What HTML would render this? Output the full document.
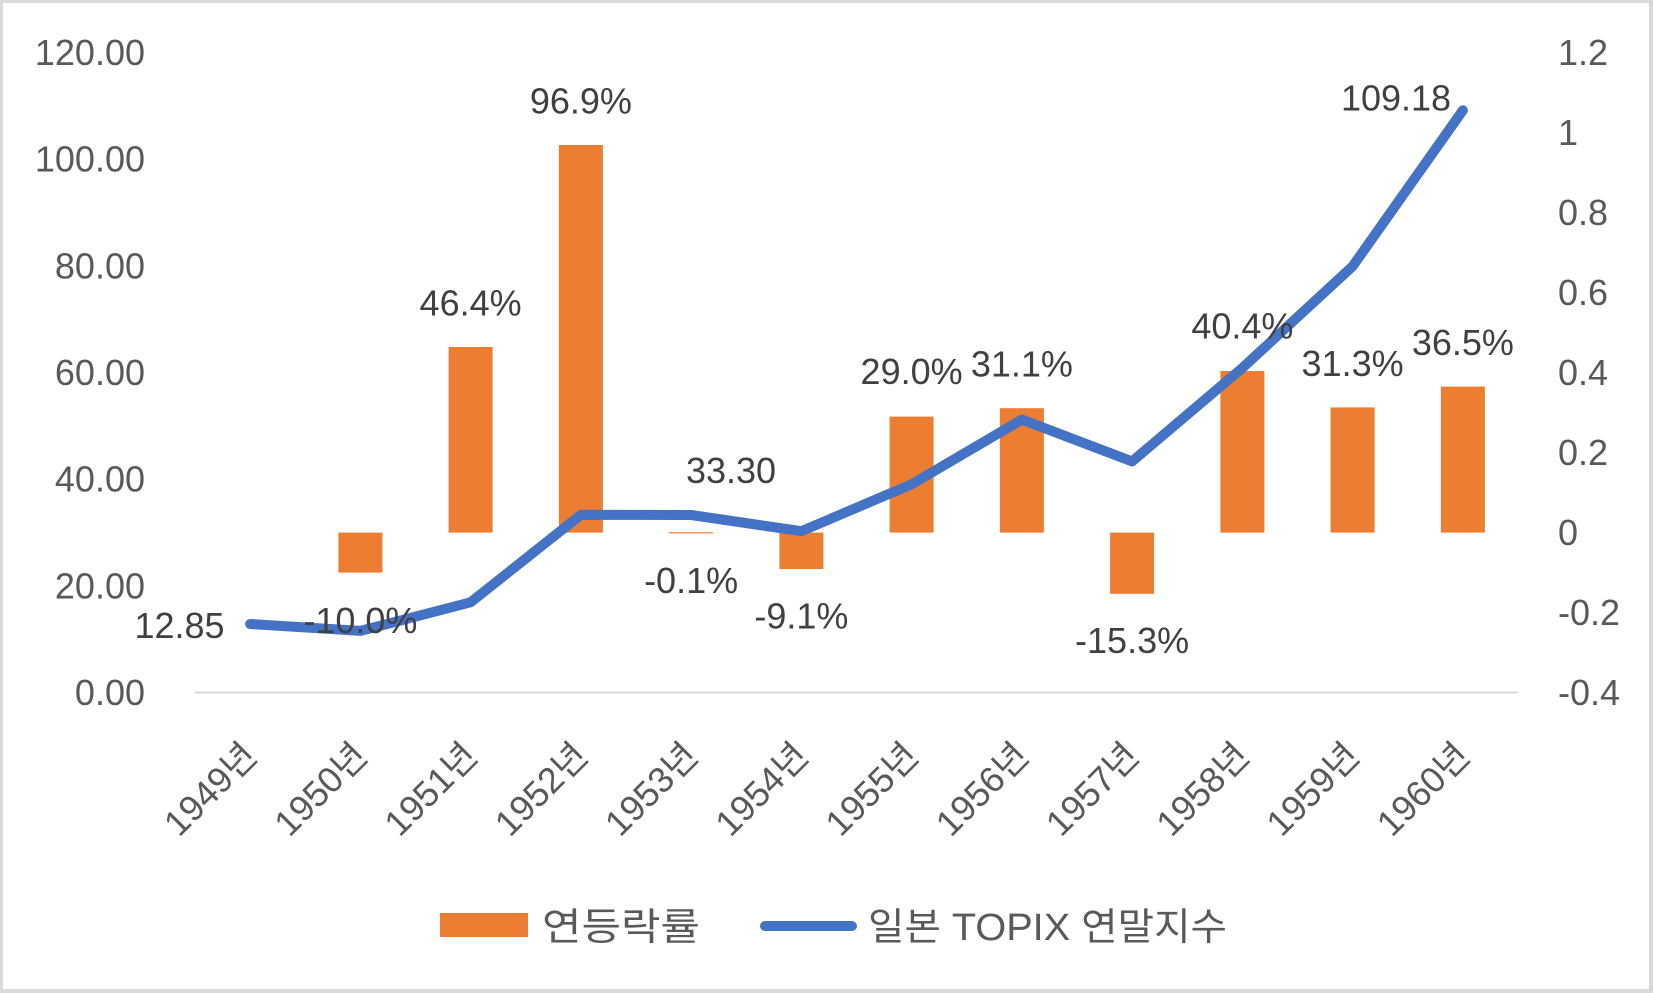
<!DOCTYPE html>
<html>
<head>
<meta charset="utf-8">
<style>
  html, body { margin: 0; padding: 0; background: #fff; }
  svg { display: block; }
  text { font-family: "Liberation Sans", "Noto Sans CJK KR", sans-serif; }
</style>
</head>
<body>
<svg width="1653" height="993" viewBox="0 0 1653 993" xmlns="http://www.w3.org/2000/svg">
  <!-- border -->
  <rect x="0" y="0" width="1653" height="993" fill="#D9D9D9"/>
  <rect x="3" y="3" width="1646" height="986" fill="#FFFFFF"/>

  <!-- gridline (zero of left axis) -->
  <line x1="195" y1="692.5" x2="1518" y2="692.5" stroke="#D9D9D9" stroke-width="2"/>

  <!-- left axis labels -->
  <g font-size="36" fill="#595959" text-anchor="end">
    <text x="145" y="65">120.00</text>
    <text x="145" y="171.6">100.00</text>
    <text x="145" y="278.3">80.00</text>
    <text x="145" y="385">60.00</text>
    <text x="145" y="491.6">40.00</text>
    <text x="145" y="598.3">20.00</text>
    <text x="145" y="705">0.00</text>
  </g>

  <!-- right axis labels -->
  <g font-size="36" fill="#595959" text-anchor="start">
    <text x="1558" y="65">1.2</text>
    <text x="1558" y="145">1</text>
    <text x="1558" y="225">0.8</text>
    <text x="1558" y="305">0.6</text>
    <text x="1558" y="385">0.4</text>
    <text x="1558" y="465">0.2</text>
    <text x="1558" y="545">0</text>
    <text x="1558" y="625">-0.2</text>
    <text x="1558" y="705">-0.4</text>
  </g>

  <!-- bars -->
  <g fill="#ED7D31">
    <rect x="338.4" y="532.6" width="44" height="40"/>
    <rect x="448.6" y="347" width="44" height="185.6"/>
    <rect x="558.9" y="145" width="44" height="387.6"/>
    <rect x="669.1" y="532.2" width="44" height="1.2"/>
    <rect x="779.4" y="532.6" width="44" height="36.4"/>
    <rect x="889.6" y="416.6" width="44" height="116"/>
    <rect x="999.9" y="408.2" width="44" height="124.4"/>
    <rect x="1110.1" y="532.6" width="44" height="61.2"/>
    <rect x="1220.4" y="371" width="44" height="161.6"/>
    <rect x="1330.6" y="407.4" width="44" height="125.2"/>
    <rect x="1440.9" y="386.6" width="44" height="146"/>
  </g>

  <!-- line -->
  <polyline fill="none" stroke="#4472C4" stroke-width="10" stroke-linecap="round" stroke-linejoin="round"
    points="250.1,624 360.4,630.9 470.6,602.3 580.9,514.8 691.1,515 801.4,531.2 911.6,484.3 1021.9,419.6 1132.1,461.4 1242.4,367.9 1352.6,266.3 1462.9,110.3"/>

  <!-- data labels -->
  <g font-size="36" fill="#404040" text-anchor="middle">
    <text x="179.5" y="638">12.85</text>
    <text x="360.4" y="633">-10.0%</text>
    <text x="470.6" y="315.5">46.4%</text>
    <text x="580.9" y="113.5">96.9%</text>
    <text x="731" y="483">33.30</text>
    <text x="691.1" y="593">-0.1%</text>
    <text x="801.4" y="628.5">-9.1%</text>
    <text x="911.6" y="384">29.0%</text>
    <text x="1021.9" y="376.6">31.1%</text>
    <text x="1132.1" y="653">-15.3%</text>
    <text x="1242.4" y="338.5">40.4%</text>
    <text x="1352.6" y="376">31.3%</text>
    <text x="1462.9" y="355">36.5%</text>
    <text x="1396" y="110.5">109.18</text>
  </g>

  <!-- x-axis category labels -->
  <g font-size="36" fill="#595959" text-anchor="end">
    <text x="259.1" y="758" transform="rotate(-45 259.1 758)">1949년</text>
    <text x="369.4" y="758" transform="rotate(-45 369.4 758)">1950년</text>
    <text x="479.6" y="758" transform="rotate(-45 479.6 758)">1951년</text>
    <text x="589.9" y="758" transform="rotate(-45 589.9 758)">1952년</text>
    <text x="700.1" y="758" transform="rotate(-45 700.1 758)">1953년</text>
    <text x="810.4" y="758" transform="rotate(-45 810.4 758)">1954년</text>
    <text x="920.6" y="758" transform="rotate(-45 920.6 758)">1955년</text>
    <text x="1030.9" y="758" transform="rotate(-45 1030.9 758)">1956년</text>
    <text x="1141.1" y="758" transform="rotate(-45 1141.1 758)">1957년</text>
    <text x="1251.4" y="758" transform="rotate(-45 1251.4 758)">1958년</text>
    <text x="1361.6" y="758" transform="rotate(-45 1361.6 758)">1959년</text>
    <text x="1471.9" y="758" transform="rotate(-45 1471.9 758)">1960년</text>
  </g>

  <!-- legend -->
  <rect x="440" y="913" width="88" height="24" fill="#ED7D31"/>
  <text x="542" y="940" font-size="38" fill="#595959" textLength="158" lengthAdjust="spacingAndGlyphs">연등락률</text>
  <line x1="765" y1="926" x2="852" y2="926" stroke="#4472C4" stroke-width="10" stroke-linecap="round"/>
  <text x="868" y="940" font-size="38" fill="#595959" textLength="359" lengthAdjust="spacingAndGlyphs">일본 TOPIX 연말지수</text>
</svg>
</body>
</html>
